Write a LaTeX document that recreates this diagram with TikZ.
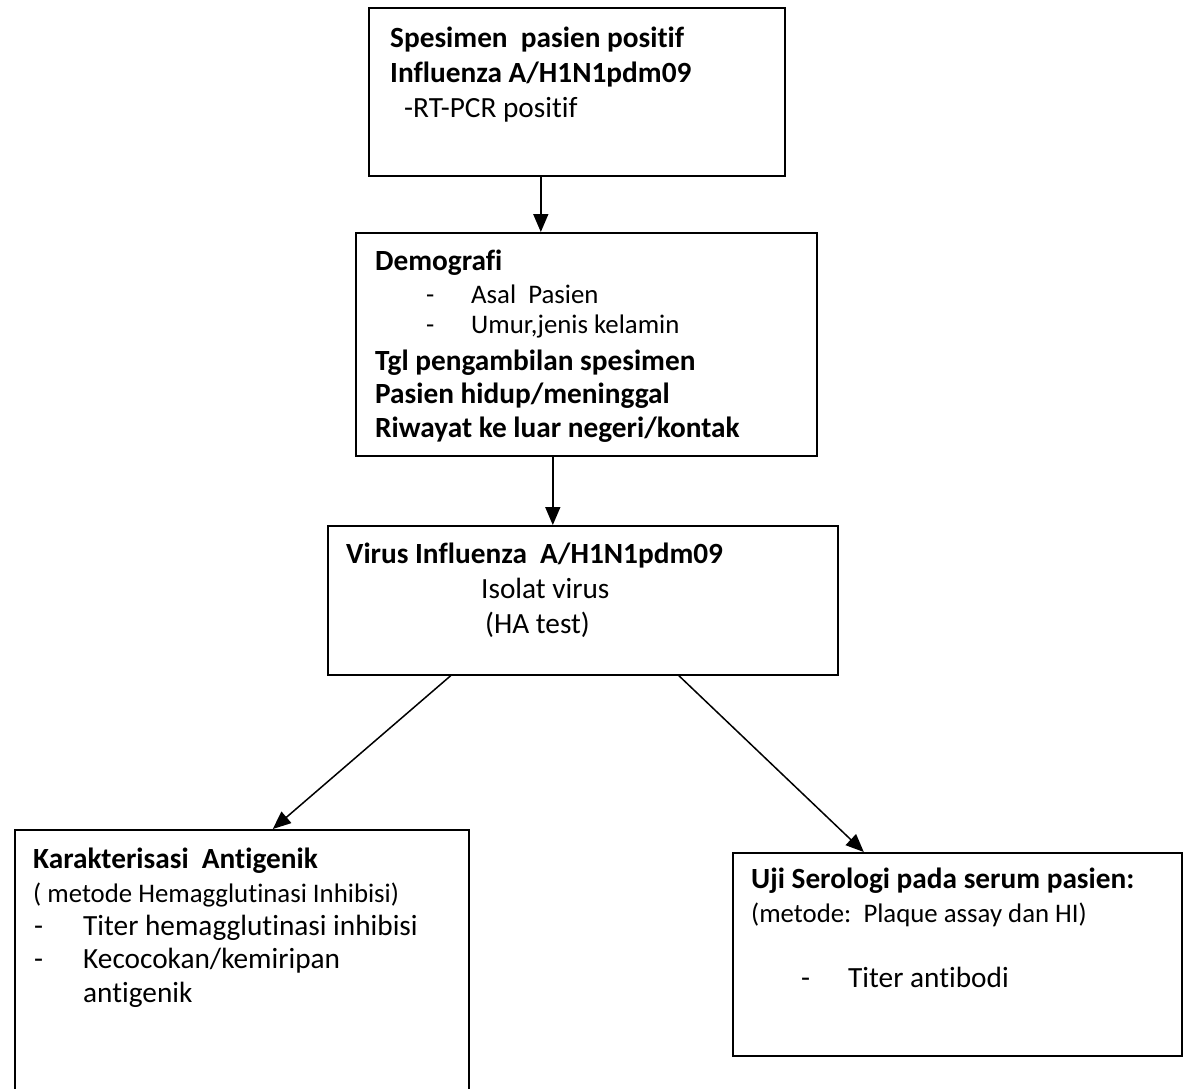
\documentclass[tikz,border=0pt]{standalone}
\usepackage{fontspec}
\setmainfont{Carlito}[Ligatures=NoCommon]
\usetikzlibrary{arrows.meta}

\begin{document}
\begin{tikzpicture}
    	[x=1pt, y=-1pt,
    	box/.style={draw, line width=1.6pt, anchor=north west, inner sep=0pt},
    	hd/.style={anchor=base west, inner sep=0pt, font=\bfseries\fontsize{29.3}{34}\selectfont},
    	tx/.style={anchor=base west, inner sep=0pt, font=\fontsize{29.3}{34}\selectfont},
    	sm/.style={anchor=base west, inner sep=0pt, font=\fontsize{26.8}{31}\selectfont},
    	arr/.style={-{Triangle[length=18pt, width=15pt]}, line width=1.5pt}]
    	\useasboundingbox (0,0) rectangle (1186,1088);

    	% boxes
    	\node (spec) at (368,7) [box, minimum width=416pt, minimum height=168pt] {};
    	\node (demo) at (355,232) [box, minimum width=461pt, minimum height=223pt] {};
    	\node (virus) at (327,525) [box, minimum width=510pt, minimum height=149pt] {};
    	\node (antig) at (14,829) [box, minimum width=454pt, minimum height=271pt] {};
    	\node (sero) at (732,852) [box, minimum width=449pt, minimum height=203pt] {};

    	% texts
    	\node (s1) at (390,47) [hd] {Spesimen\ \ pasien positif};
    	\node (s2) at (390,82) [hd] {Influenza A/H1N1pdm09};
    	\node (s3) at (404,117) [tx] {-RT-PCR positif};

    	\node (d1) at (375,270) [hd] {Demografi};
    	\node (d2a) at (426,303) [sm] {-};
    	\node (d2) at (471,303) [sm] {Asal\ \ Pasien};
    	\node (d3a) at (426,333) [sm] {-};
    	\node (d3) at (471,333) [sm] {Umur,jenis kelamin};
    	\node (d4) at (375,370) [hd] {Tgl pengambilan spesimen};
    	\node (d5) at (375,403) [hd] {Pasien hidup/meninggal};
    	\node (d6) at (375,437) [hd] {Riwayat ke luar negeri/kontak};

    	\node (v1) at (346,563) [hd] {Virus Influenza\ \ A/H1N1pdm09};
    	\node (v2) at (481,598) [tx] {Isolat virus};
    	\node (v3) at (485,633) [tx] {(HA test)};

    	\node (a1) at (33,868) [hd] {Karakterisasi\ \ Antigenik};
    	\node (a2) at (33,902) [sm] {( metode Hemagglutinasi Inhibisi)};
    	\node (a3a) at (34,935) [tx] {-};
    	\node (a3) at (83,935) [tx] {Titer hemagglutinasi inhibisi};
    	\node (a4a) at (34,968) [tx] {-};
    	\node (a4) at (83,968) [tx] {Kecocokan/kemiripan};
    	\node (a5) at (83,1002) [tx] {antigenik};

    	\node (u1) at (751,888) [hd] {Uji Serologi pada serum pasien:};
    	\node (u2) at (751,922) [sm] {(metode:\ \ Plaque assay dan HI)};
    	\node (u3a) at (801,987) [tx] {-};
    	\node (u3) at (848,987) [tx] {Titer antibodi};

    	% arrows
    	\draw[arr] ([xshift=-36pt]spec.south) -- ([xshift=-45.5pt]demo.north);
    	\draw[arr] ([xshift=-33.5pt]demo.south) -- ([xshift=-30pt]virus.north);
    	\draw[arr] ([xshift=-132pt]virus.south) -- ([xshift=31pt]antig.north);
    	\draw[arr] ([xshift=96pt]virus.south) -- ([xshift=-93.5pt]sero.north);
\end{tikzpicture}
\end{document}
